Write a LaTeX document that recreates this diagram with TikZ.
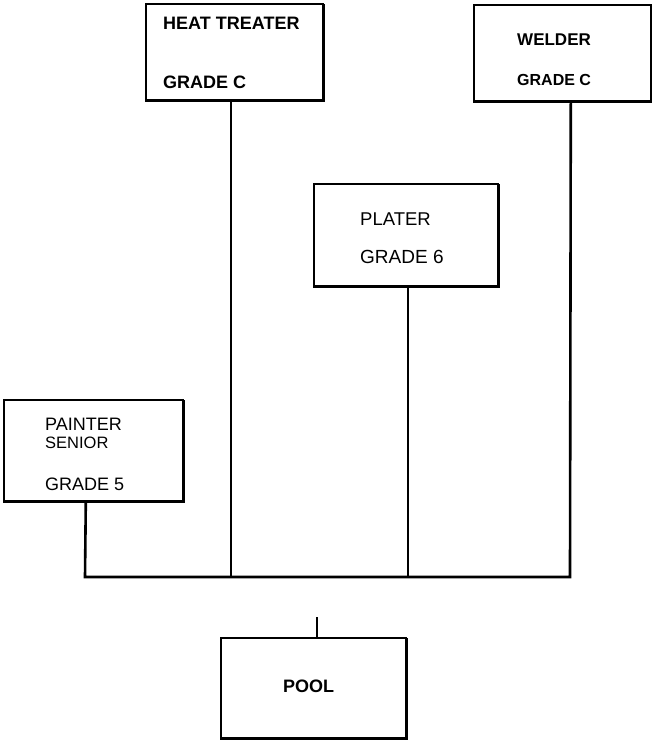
\documentclass[tikz,border=0pt]{standalone}
\usepackage{fontspec}
\setmainfont{Liberation Sans}
\begin{document}
\begin{tikzpicture}[x=1pt,y=-1pt,
		jobbox/.style={draw, line width=1.6pt, inner sep=0, anchor=north west},
		jobtext/.style={anchor=base west, inner sep=0, font=\fontsize{18}{20}\selectfont},
		shade/.style={line width=3.2pt},
		link/.style={line width=2.6pt}]
	\useasboundingbox (0,0) rectangle (652,740);

	\node[jobbox, minimum width=177pt, minimum height=96pt] (heat) at (145,3) {};
	\node[jobbox, minimum width=177pt, minimum height=96pt] (welder) at (473,4) {};
	\node[jobbox, minimum width=184pt, minimum height=102pt] (plater) at (313,183) {};
	\node[jobbox, minimum width=179pt, minimum height=101pt] (painter) at (3,399) {};
	\node[jobbox, minimum width=185pt, minimum height=100pt] (pool) at (220,637) {};
	\foreach \b in {heat,welder,plater,painter,pool}
		\draw[shade] ([yshift=-1pt]\b.north east) -- (\b.south east) -- (\b.south west);

	\node[jobtext, font=\fontsize{18}{20}\selectfont\bfseries] (heat1) at (163,29) {HEAT TREATER};
	\node[jobtext, font=\fontsize{18}{20}\selectfont\bfseries] (heat2) at (163,88) {GRADE C};
	\node[jobtext, font=\fontsize{17}{20}\selectfont\bfseries] (welder1) at (517,45) {WELDER};
	\node[jobtext, font=\fontsize{16}{20}\selectfont\bfseries] (welder2) at (517,85) {GRADE C};
	\node[jobtext, font=\fontsize{18.5}{20}\selectfont] (plater1) at (360,225) {PLATER};
	\node[jobtext, font=\fontsize{19}{20}\selectfont] (plater2) at (360,263) {GRADE 6};
	\node[jobtext] (painter1) at (45,430) {PAINTER};
	\node[jobtext, font=\fontsize{16.5}{18}\selectfont] (painter2) at (45,448) {SENIOR};
	\node[jobtext] (painter3) at (45,490) {GRADE 5};
	\node[jobtext, font=\fontsize{18}{20}\selectfont\bfseries] (pool1) at (283,692) {POOL};

	\coordinate (busL) at (85,577);
	\coordinate (busR) at (570,577);
	\coordinate (stub) at (317,617);
	\draw[link] ([xshift=-7.5pt]painter.south) -- (busL) -- (busR) -- ([xshift=8.5pt]welder.south);
	\draw[link] ([xshift=-3.5pt]heat.south) -- ([xshift=-3.5pt]heat.south |- busL);
	\draw[line width=1.4pt] ([xshift=2pt]plater.south) -- ([xshift=2pt]plater.south |- busL);
	\draw[line width=1.4pt] (stub) -- (stub |- pool.north);
\end{tikzpicture}
\end{document}
